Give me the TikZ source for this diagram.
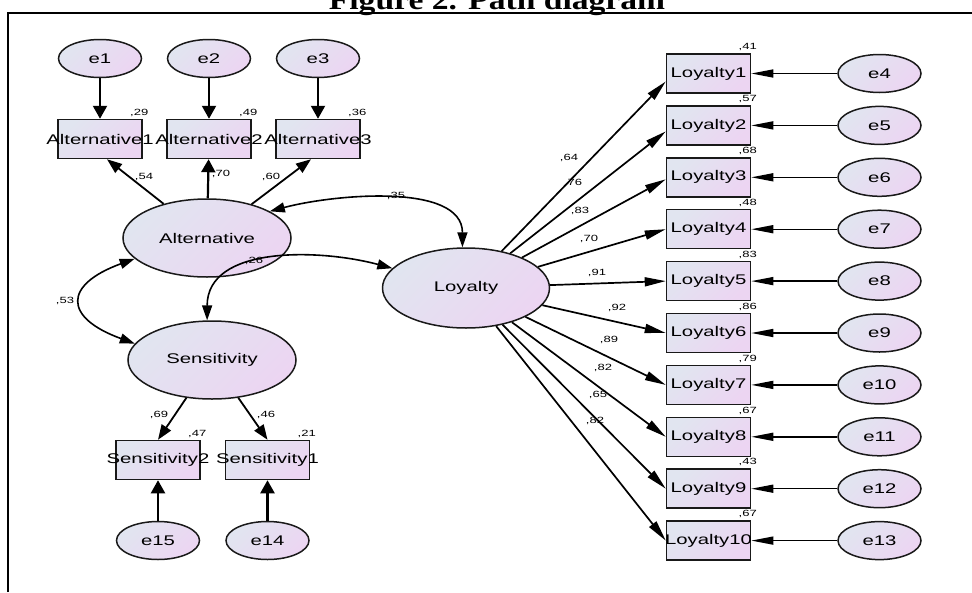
\documentclass[tikz,border=0pt]{standalone}
\usepackage{fontspec}
\usepackage{tikz}
\usetikzlibrary{arrows.meta,positioning,shapes.geometric}
\newfontfamily\amosfont[FakeStretch=1.45]{Liberation Sans}
\newfontfamily\titlefont[FakeStretch=1.2]{Liberation Serif}
\definecolor{shadeblue}{RGB}{225,229,240}
\definecolor{shadepink}{RGB}{236,213,242}
\definecolor{edgegray}{RGB}{25,25,25}
\newcommand{\ovr}[1]{\makebox[0pt]{#1}}

\begin{document}
\begin{tikzpicture}[
    x=1pt,y=-1pt,
    base/.style={draw=edgegray,line width=1.5pt,top color=shadeblue,
      bottom color=shadepink,shading angle=45,inner sep=0pt,
      font=\amosfont\fontsize{14}{16}\selectfont},
    latent/.style={base,ellipse,minimum width=168pt,minimum height=78pt},
    err/.style={base,ellipse,minimum width=83pt,minimum height=38pt},
    obs/.style={base,rectangle,minimum width=84pt,minimum height=39pt},
    lbl/.style={font=\amosfont\fontsize{9}{10}\selectfont,inner sep=0pt},
    rsq/.style={lbl,anchor=base,xshift=-3.5pt,yshift=3.5pt},
    harr/.style={-{Triangle[length=22pt,width=8pt]},line width=1.4pt},
    larr/.style={-{Triangle[length=21pt,width=9pt]},line width=1.7pt},
    varr/.style={-{Triangle[length=13pt,width=14pt]},line width=2.2pt},
    darr/.style={-{Triangle[length=15pt,width=11pt]},line width=1.8pt},
    cov/.style={{Triangle[length=15pt,width=10pt]}-{Triangle[length=15pt,width=10pt]},
      line width=1.6pt}
  ]
    \useasboundingbox (0,0) rectangle (972,592);
    \draw[line width=2pt] (8,592) -- (8,13) -- (972,13);
    \node[font=\titlefont\bfseries\fontsize{28}{30}\selectfont,anchor=base,inner sep=0pt]
      (title) at (497,9) {Figure 2. Path diagram};

    % latent variables
    \node[latent] (Alt) at (207,238) {Alternative};
    \node[latent,minimum width=167pt,minimum height=80pt] (Loy) at (466,288) {Loyalty};
    \node[latent] (Sens) at (212,360) {Sensitivity};

    % Alternative block
    \node[obs,label={[rsq]north east:,29}] (A1) at (100,139) {\ovr{Alternative1}};
    \node[obs,right=23.5pt of A1,label={[rsq]north east:,49}] (A2) {\ovr{Alternative2}};
    \node[obs,right=23.5pt of A2,label={[rsq]north east:,36}] (A3) {\ovr{Alternative3}};
    \node[err,above=40.5pt of A1] (e1) {e1};
    \node[err,above=40.5pt of A2] (e2) {e2};
    \node[err,above=40.5pt of A3] (e3) {e3};

    % Sensitivity block
    \node[obs,label={[rsq]north east:,47}] (S2) at (158,460) {\ovr{Sensitivity2}};
    \node[obs,right=24pt of S2,label={[rsq]north east:,21}] (S1) {\ovr{Sensitivity1}};
    \node[err,below=40.5pt of S2] (e15) {e15};
    \node[err,below=40.5pt of S1] (e14) {e14};

    % Loyalty block
    \node[obs,label={[rsq]north east:,41}] (L1) at (708.5,73.5) {\ovr{Loyalty1}};
    \node[obs,below=11.4pt of L1,label={[rsq]north east:,57}] (L2) {\ovr{Loyalty2}};
    \node[obs,below=11.4pt of L2,label={[rsq]north east:,68}] (L3) {\ovr{Loyalty3}};
    \node[obs,below=11.4pt of L3,label={[rsq]north east:,48}] (L4) {\ovr{Loyalty4}};
    \node[obs,below=11.4pt of L4,label={[rsq]north east:,83}] (L5) {\ovr{Loyalty5}};
    \node[obs,below=11.4pt of L5,label={[rsq]north east:,86}] (L6) {\ovr{Loyalty6}};
    \node[obs,below=11.4pt of L6,label={[rsq]north east:,79}] (L7) {\ovr{Loyalty7}};
    \node[obs,below=11.4pt of L7,label={[rsq]north east:,67}] (L8) {\ovr{Loyalty8}};
    \node[obs,below=11.4pt of L8,label={[rsq]north east:,43}] (L9) {\ovr{Loyalty9}};
    \node[obs,below=11.4pt of L9,label={[rsq]north east:,67}] (L10) {\ovr{Loyalty10}};
    \node[err,right=86pt of L1] (e4) {e4};
    \node[err,right=86pt of L2] (e5) {e5};
    \node[err,right=86pt of L3] (e6) {e6};
    \node[err,right=86pt of L4] (e7) {e7};
    \node[err,right=86pt of L5] (e8) {e8};
    \node[err,right=86pt of L6] (e9) {e9};
    \node[err,right=86pt of L7] (e10) {e10};
    \node[err,right=86pt of L8] (e11) {e11};
    \node[err,right=86pt of L9] (e12) {e12};
    \node[err,right=86pt of L10] (e13) {e13};

    % error terms
    \draw[varr] (e1) -- (A1);
    \draw[varr] (e2) -- (A2);
    \draw[varr] (e3) -- (A3);
    \draw[varr] (e15) -- (S2);
    \draw[varr] (e14) -- (S1);
    \draw[harr] (e4) -- (L1);
    \draw[harr] (e5) -- (L2);
    \draw[harr] (e6) -- (L3);
    \draw[harr] (e7) -- (L4);
    \draw[harr] (e8) -- (L5);
    \draw[harr] (e9) -- (L6);
    \draw[harr] (e10) -- (L7);
    \draw[harr] (e11) -- (L8);
    \draw[harr] (e12) -- (L9);
    \draw[harr] (e13) -- (L10);

    % loadings
    \draw[darr] (Alt) -- ([xshift=7pt]A1.south);
    \draw[varr] (Alt) -- (A2);
    \draw[darr] (Alt) -- ([xshift=-7pt]A3.south);
    \draw[darr] (Sens) -- (S2.north);
    \draw[darr] (Sens) -- (S1.north);
    \draw[larr] (Loy) -- ([yshift=-8pt]L1.west);
    \draw[larr] (Loy) -- ([yshift=-6pt]L2.west);
    \draw[larr] (Loy) -- ([yshift=-2pt]L3.west);
    \draw[larr] (Loy) -- (L4.west);
    \draw[larr] (Loy) -- (L5.west);
    \draw[larr] (Loy) -- (L6.west);
    \draw[larr] (Loy) -- (L7.west);
    \draw[larr] (Loy) -- (L8.west);
    \draw[larr] (Loy) -- (L9.west);
    \draw[larr] (Loy) -- (L10.west);

    % covariances
    \draw[cov] (Alt.23) to[out=15,in=90,looseness=0.85] (Loy.95);
    \draw[cov] (Sens.97) to[out=90,in=165] (Loy.165);
    \draw[cov] (Alt.196) to[out=200,in=160,looseness=2.3] (Sens.168);

    % path values
    \node[lbl] (v54) at (144,177) {,54};
    \node[lbl] (v70) at (221,174) {,70};
    \node[lbl] (v60) at (271,177) {,60};
    \node[lbl] (v69) at (159,415) {,69};
    \node[lbl] (v46) at (266,415) {,46};
    \node[lbl] (v35) at (396,196) {,35};
    \node[lbl] (v26) at (254,261) {,26};
    \node[lbl] (v53) at (65,301) {,53};
    \node[lbl] (w1) at (569,158) {,64};
    \node[lbl] (w2) at (573,183) {,76};
    \node[lbl] (w3) at (580,211) {,83};
    \node[lbl] (w4) at (589,239) {,70};
    \node[lbl] (w5) at (597,273) {,91};
    \node[lbl] (w6) at (617,308) {,92};
    \node[lbl] (w7) at (609,340) {,89};
    \node[lbl] (w8) at (603,368) {,82};
    \node[lbl] (w9) at (598,395) {,65};
    \node[lbl] (w10) at (595,421) {,82};
  \end{tikzpicture}
\end{document}
